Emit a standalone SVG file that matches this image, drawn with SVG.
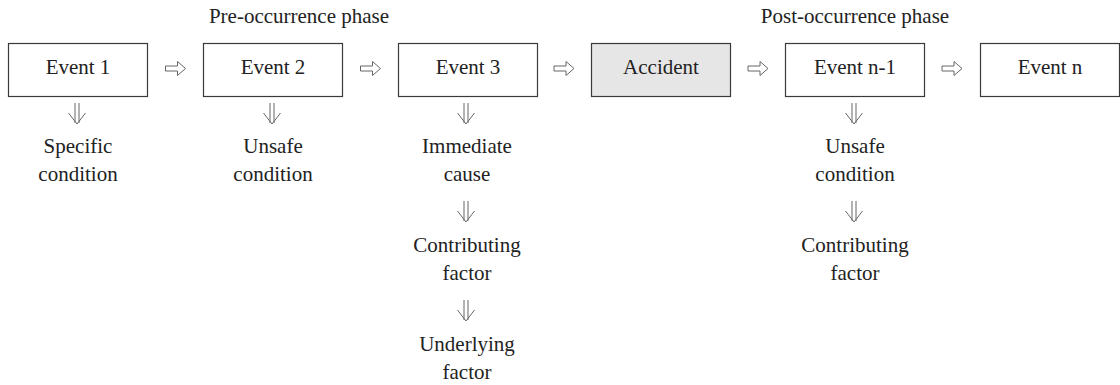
<svg xmlns="http://www.w3.org/2000/svg" width="1120" height="385" viewBox="0 0 1120 385" font-family="'Liberation Serif', 'Times New Roman', serif">
<defs>
<style>
.box{fill:#fff;stroke:#3a3a3a;stroke-width:1.2}
.acc{fill:#e6e6e6;stroke:#3a3a3a;stroke-width:1.2}
.t{font-family:"Liberation Serif","Times New Roman",serif;font-size:21px;fill:#222;text-anchor:middle}
.arr{fill:none;stroke:#666;stroke-width:1}
</style>
<g id="rarrow"><path class="arr" d="M-10,-2.5 H2 V-7 L10,0 L2,7 V2.5 H-10 Z"/></g>
<g id="darrow"><path class="arr" d="M-2,-21 V-1 M2,-21 V-1 M-8.5,-11 L0,0 L8.5,-11"/></g>
</defs>
<text class="t" x="299" y="23">Pre-occurrence phase</text>
<text class="t" x="855" y="23">Post-occurrence phase</text>
<g id="event1"><rect class="box" x="8.5" y="43.5" width="139" height="53"/><text class="t" x="78" y="74">Event 1</text></g>
<g id="event2"><rect class="box" x="203.5" y="43.5" width="139" height="53"/><text class="t" x="273" y="74">Event 2</text></g>
<g id="event3"><rect class="box" x="398.5" y="43.5" width="139" height="53"/><text class="t" x="468" y="74">Event 3</text></g>
<g id="accident"><rect class="acc" x="591.5" y="43.5" width="139" height="53"/><text class="t" x="661" y="74">Accident</text></g>
<g id="eventn1"><rect class="box" x="785.5" y="43.5" width="139" height="53"/><text class="t" x="855" y="74">Event n-1</text></g>
<g id="eventn"><rect class="box" x="980.5" y="43.5" width="139" height="53"/><text class="t" x="1050" y="74">Event n</text></g>
<g id="specific"><text class="t" x="78" y="153">Specific</text><text class="t" x="78" y="181">condition</text></g>
<g id="unsafe1"><text class="t" x="273" y="153">Unsafe</text><text class="t" x="273" y="181">condition</text></g>
<g id="immediate"><text class="t" x="467" y="153">Immediate</text><text class="t" x="467" y="181">cause</text></g>
<g id="contrib1"><text class="t" x="467" y="252">Contributing</text><text class="t" x="467" y="280">factor</text></g>
<g id="underlying"><text class="t" x="467" y="351">Underlying</text><text class="t" x="467" y="379">factor</text></g>
<g id="unsafe2"><text class="t" x="855" y="153">Unsafe</text><text class="t" x="855" y="181">condition</text></g>
<g id="contrib2"><text class="t" x="855" y="252">Contributing</text><text class="t" x="855" y="280">factor</text></g>
<g id="connectors">
<use href="#rarrow" x="175.5" y="68.5"/>
<use href="#rarrow" x="370.5" y="68.5"/>
<use href="#rarrow" x="564" y="68.5"/>
<use href="#rarrow" x="758" y="68.5"/>
<use href="#rarrow" x="952" y="68.5"/>
<use href="#darrow" x="77" y="124"/>
<use href="#darrow" x="272" y="124"/>
<use href="#darrow" x="466" y="124"/>
<use href="#darrow" x="466" y="222"/>
<use href="#darrow" x="466" y="321"/>
<use href="#darrow" x="854" y="124"/>
<use href="#darrow" x="854" y="222"/>
</g>
</svg>
